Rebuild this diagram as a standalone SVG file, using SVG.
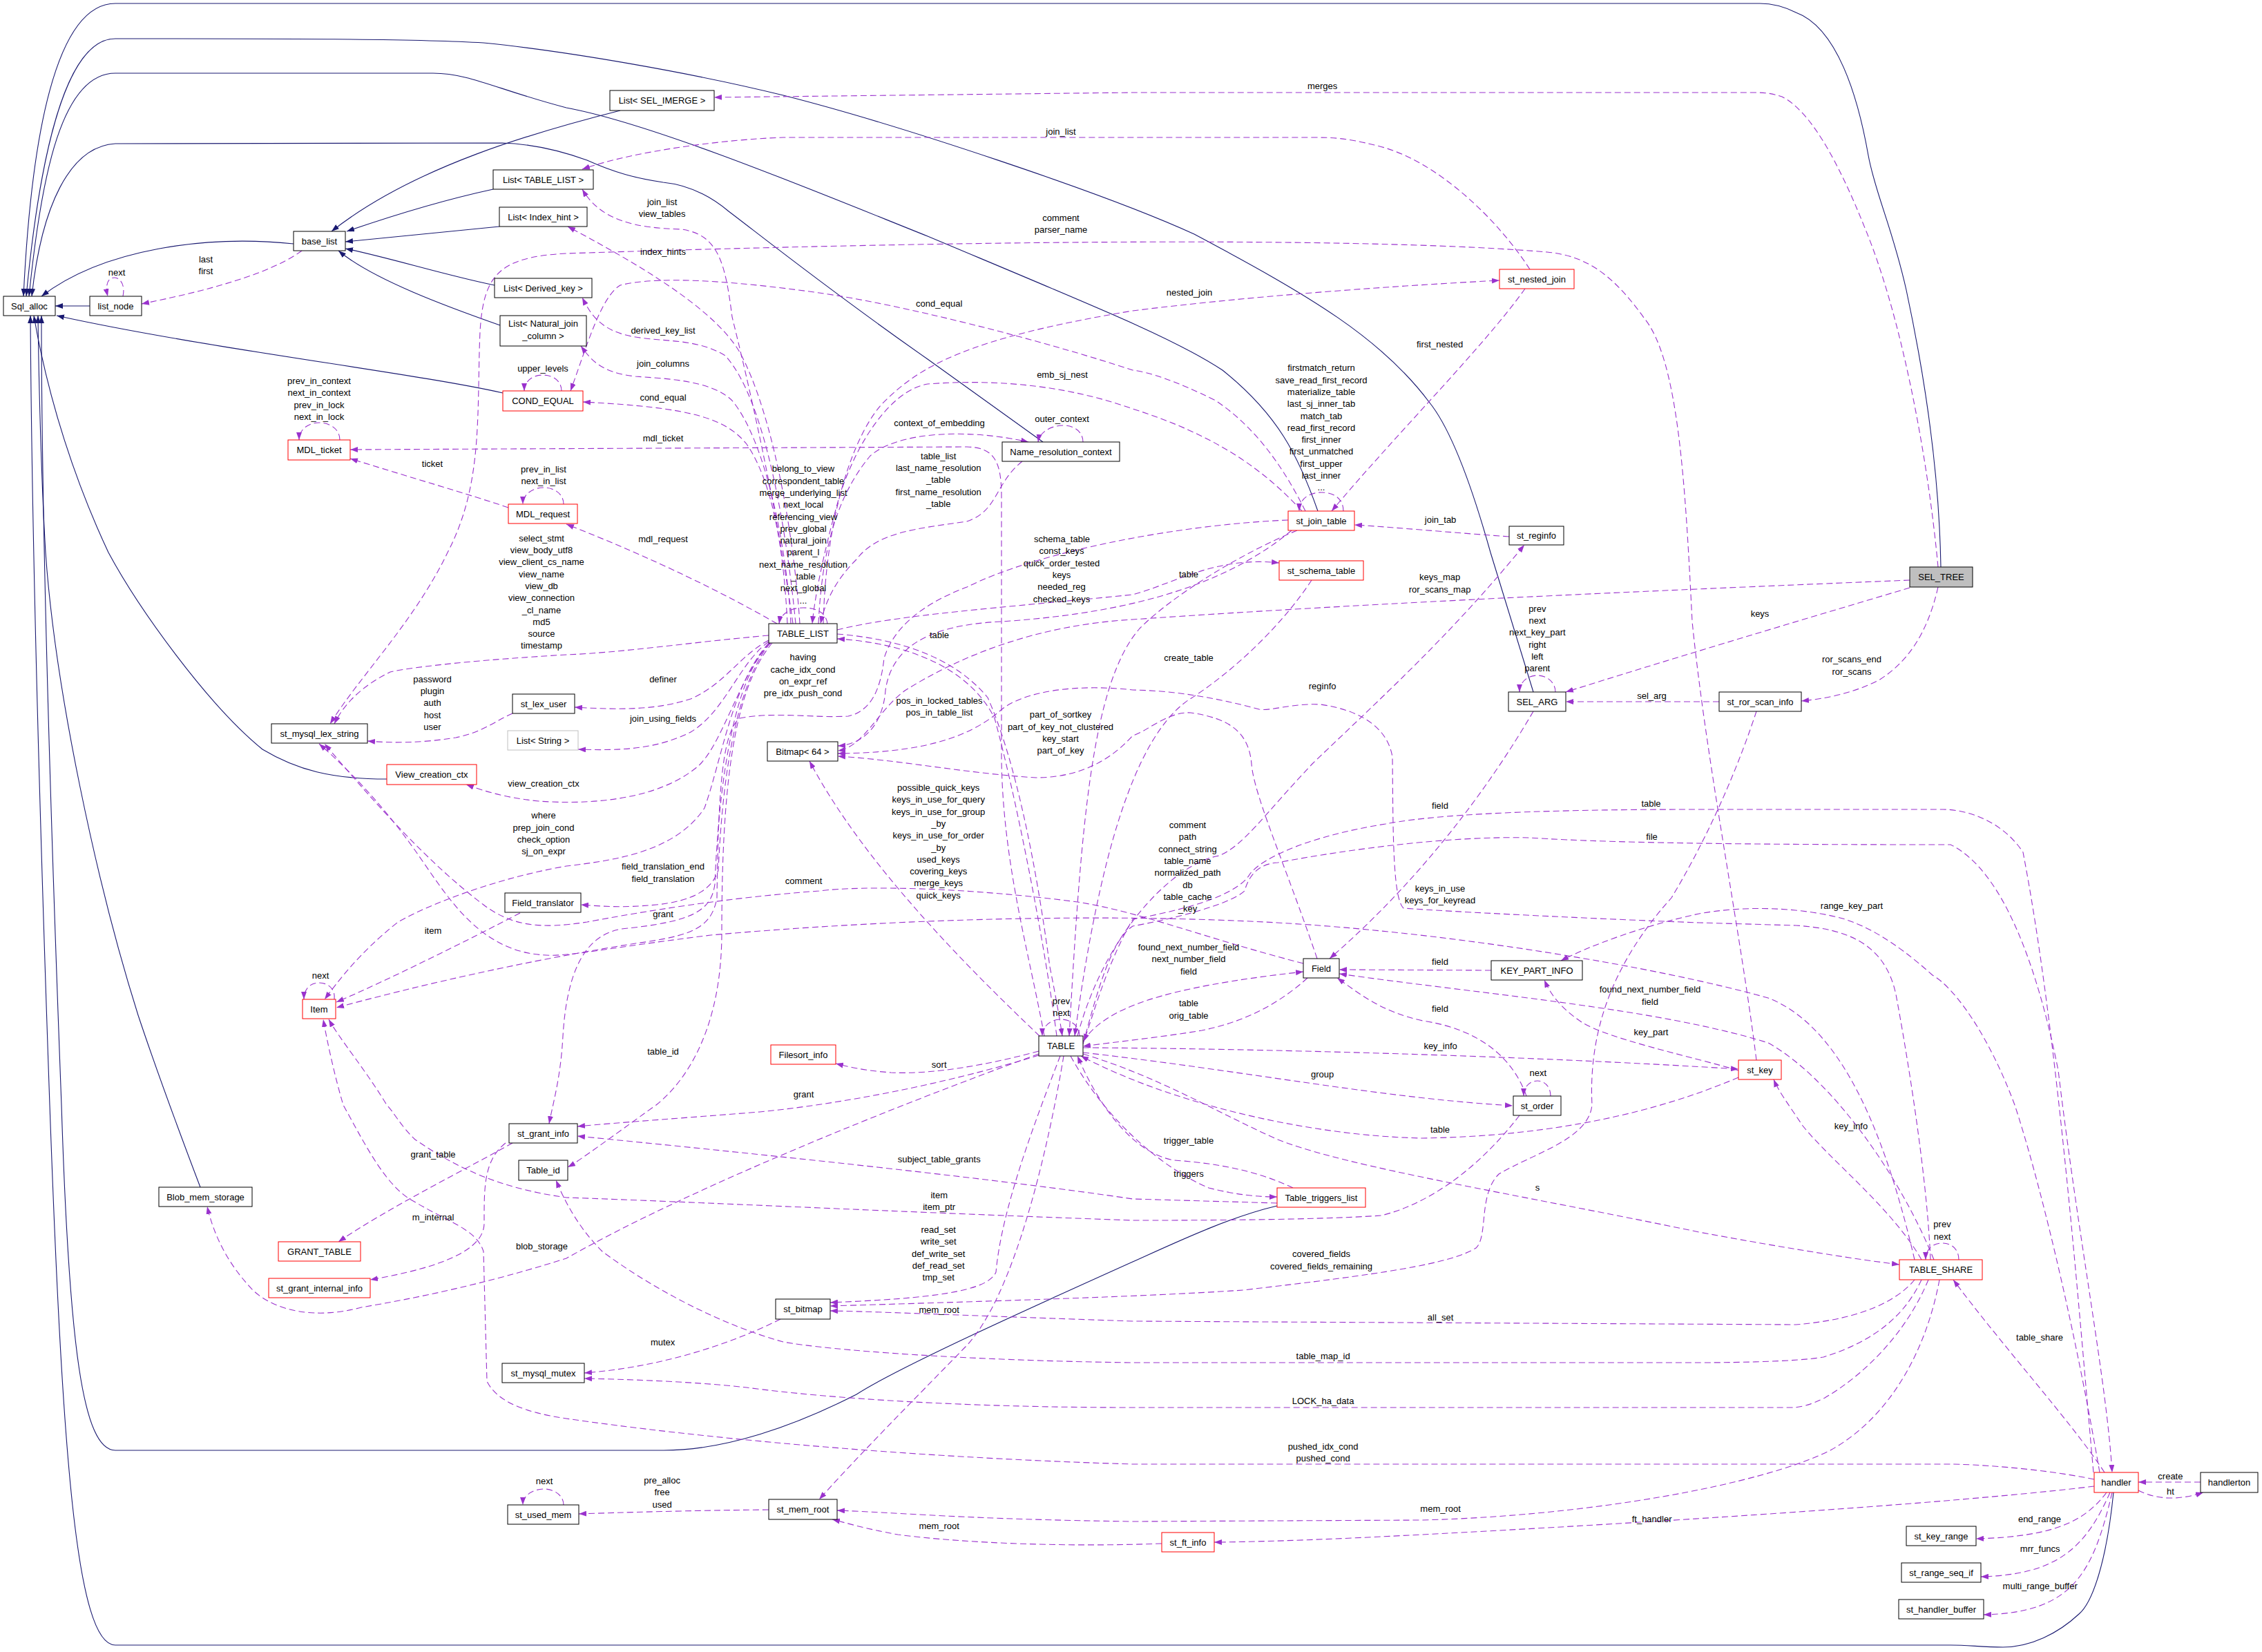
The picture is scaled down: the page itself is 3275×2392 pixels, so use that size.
<svg xmlns="http://www.w3.org/2000/svg" width="3275" height="2392" viewBox="0 0 3275 2392">
<defs>
<marker id="ap" viewBox="0 0 11 8" refX="11" refY="4" markerWidth="11" markerHeight="8" markerUnits="userSpaceOnUse" orient="auto"><path d="M0,0 L11,4 L0,8 z" fill="#9a32cd"/></marker>
<marker id="ab" viewBox="0 0 11 8" refX="11" refY="4" markerWidth="11" markerHeight="8" markerUnits="userSpaceOnUse" orient="auto"><path d="M0,0 L11,4 L0,8 z" fill="#191970"/></marker>
</defs>
<style>
text{font-family:"Liberation Sans",Arial,Helvetica,sans-serif;font-size:13px;fill:#000;text-anchor:middle}
.n rect{fill:#fff;stroke:#000;stroke-width:1}
.n.r rect{stroke:#f00}
.n.g rect{stroke:#bfbfbf}
.n.s rect{fill:#bfbfbf}
.i path{fill:none;stroke:#191970;stroke-width:1.1;marker-end:url(#ab)}
.u path{fill:none;stroke:#9a32cd;stroke-width:1.1;stroke-dasharray:9,5;marker-end:url(#ap)}
</style>
<rect width="3275" height="2392" fill="#fff"/>
<g id="connectors">
<g class="i">
<path d="M130,443 L80,443"/>
<path d="M425,353 C300,340 150,360 60,429"/>
<path d="M714,274 C640,290 560,315 502,335"/>
<path d="M723,328 L500,350"/>
<path d="M716,413 C650,400 560,372 500,360"/>
<path d="M724,471 C650,445 540,405 490,363"/>
<path d="M898,160 C780,190 600,240 480,335"/>
<path d="M728,569 C600,540 300,505 82,457"/>
<path d="M1510,640 L1343,520 C1200,420 1100,340 1055,306 C1030,285 1000,268 960,264 C920,258 890,250 850,232 C800,214 760,208 727,207 L167,208 C100,212 60,300 46,429"/>
<path d="M1908,740 C1880,660 1850,600 1770,536 C1700,490 1600,450 1343,342 C1200,285 950,180 820,156 C720,130 680,106 627,106 L167,106 C90,106 60,250 42,429"/>
<path d="M2220,1002 L2158,800 C2130,700 2100,620 2069,582 C2000,490 1900,430 1729,339 C1600,280 1300,180 1134,138 C1000,105 820,74 700,62 C600,56 400,56 167,56 C90,56 55,250 38,429"/>
<path d="M2810,821 C2808,700 2790,560 2760,420 C2740,330 2715,280 2705,225 C2690,140 2660,40 2600,18 C2580,8 2560,5 2548,5 L167,5 C80,5 45,200 34,429"/>
<path d="M560,1128 C480,1128 430,1115 380,1085 C300,1020 200,880 157,800 C110,700 70,580 49,457"/>
<path d="M290,1719 C260,1640 230,1560 200,1470 C140,1280 80,1000 66,800 C60,700 56,550 55,457"/>
<path d="M1849,1746 C1780,1762 1700,1800 1640,1827 C1500,1890 1300,1980 1240,2019 C1150,2065 1050,2100 961,2100 L167,2100 C120,2100 100,1950 89,1600 C70,1100 60,700 60,457"/>
<path d="M3060,2161 C3050,2260 3030,2320 3010,2337 C2980,2365 2940,2385 2900,2385 C2870,2385 2850,2382 2824,2382 L167,2382 C110,2382 90,2100 72,1600 C58,1200 46,800 44,457"/>
</g>
<g class="u">
<path d="M178,429 C182,410 172,402 166,402 C156,402 152,412 156,429"/>
<path d="M437,363 C400,390 330,415 205,440"/>
<path d="M492,637 C492,620 476,612 462,612 C446,612 433,622 433,637"/>
<path d="M736,735 C680,716 590,690 507,664"/>
<path d="M816,730 C816,714 801,706 787,706 C771,706 757,716 757,730"/>
<path d="M813,566 C813,551 800,543 786,543 C771,543 759,552 759,566"/>
<path d="M1512,1500 C1490,1380 1452,1250 1450,1100 L1450,720 C1450,668 1440,648 1400,647 L507,651"/>
<path d="M1125,903 C1050,860 950,810 820,759"/>
<path d="M1140,903 C1135,800 1120,700 1081,643 C1050,605 1000,590 844,582"/>
<path d="M1145,903 C1140,800 1110,640 1060,580 C1030,550 960,548 920,545 C870,540 855,520 841,501"/>
<path d="M1152,903 C1140,780 1110,580 1050,515 C1010,490 960,495 920,488 C870,480 855,455 843,431"/>
<path d="M1158,903 C1150,780 1120,600 1071,510 C1030,440 900,370 822,328"/>
<path d="M1148,903 C1120,700 1070,500 1060,459 C1050,380 1040,340 987,332 C920,330 870,320 843,274"/>
<path d="M2215,390 C2170,320 2080,230 1990,210 C1950,200 1930,199 1900,199 L1134,199 C1050,202 920,218 843,245"/>
<path d="M2543,1535 C2520,1350 2470,1100 2450,900 C2440,700 2430,520 2380,460 C2330,390 2290,370 2240,365 C2000,345 1500,345 820,367 C720,372 700,400 695,480 C690,600 700,700 648,800 C600,900 520,980 478,1048"/>
<path d="M2806,821 C2790,650 2750,450 2700,330 C2660,230 2620,160 2580,140 C2565,135 2555,134 2540,134 L1640,134 L1034,141"/>
<path d="M1198,903 C1196,887 1182,880 1163,880 C1144,880 1130,889 1128,903"/>
<path d="M1185,903 C1190,800 1210,720 1260,660 C1300,625 1400,620 1489,640"/>
<path d="M1568,640 C1568,625 1555,616 1540,616 C1521,616 1505,626 1503,640"/>
<path d="M1480,668 C1440,700 1445,740 1400,755 C1330,765 1270,770 1240,810 C1210,840 1195,870 1188,903"/>
<path d="M1192,903 C1195,760 1230,640 1275,587 C1330,530 1400,490 1640,450 C1800,430 2000,415 2171,406"/>
<path d="M2208,418 C2150,500 2020,630 1928,740"/>
<path d="M1945,740 C1945,721 1930,713 1913,713 C1896,713 1881,722 1881,740"/>
<path d="M1885,740 C1830,680 1760,630 1640,592 C1550,560 1450,548 1343,556 C1290,565 1240,640 1215,720 C1195,790 1180,860 1176,903"/>
<path d="M1890,740 C1860,680 1820,620 1760,580 C1700,550 1660,538 1640,536 C1500,490 1300,440 1186,424 C1050,405 950,400 898,413 C870,430 850,500 826,566"/>
<path d="M2185,777 C2100,771 2000,762 1961,760"/>
<path d="M1212,912 C1300,890 1450,880 1640,861 C1700,845 1760,805 1852,815"/>
<path d="M1870,768 C1760,860 1600,890 1450,900 C1340,905 1290,940 1282,1000 C1278,1050 1250,1078 1213,1080"/>
<path d="M1505,1500 C1400,1400 1250,1250 1172,1102"/>
<path d="M1212,918 C1300,925 1380,950 1430,1010 C1470,1100 1500,1250 1520,1400 C1530,1450 1535,1480 1538,1500"/>
<path d="M1530,1500 C1510,1350 1470,1150 1440,1040 C1400,960 1300,930 1212,925"/>
<path d="M1878,768 C1800,800 1700,860 1650,910 C1580,990 1565,1200 1548,1500"/>
<path d="M1899,840 C1860,900 1790,970 1720,1014 C1640,1070 1590,1250 1556,1500"/>
<path d="M1560,1500 C1600,1350 1700,1250 1765,1239 C1800,1225 1830,1180 1900,1106 C2000,1010 2100,920 2207,789"/>
<path d="M2252,1002 C2252,988 2240,978 2226,978 C2211,978 2200,988 2200,1002"/>
<path d="M2765,851 C2600,900 2400,960 2267,1002"/>
<path d="M2806,850 C2790,920 2760,960 2720,985 C2680,1005 2640,1012 2608,1015"/>
<path d="M2489,1016 L2267,1016"/>
<path d="M2220,1030 C2150,1150 2050,1280 1925,1388"/>
<path d="M2159,1405 L1939,1404"/>
<path d="M2210,1587 C2190,1530 2140,1490 2060,1478 C2000,1465 1970,1440 1936,1416"/>
<path d="M2245,1587 C2245,1573 2236,1565 2226,1565 C2214,1565 2206,1574 2206,1587"/>
<path d="M1568,1508 C1600,1460 1680,1430 1887,1407"/>
<path d="M1893,1416 C1850,1455 1800,1480 1740,1492 C1680,1502 1620,1508 1568,1515"/>
<path d="M1568,1517 C1800,1518 2200,1528 2517,1548"/>
<path d="M1568,1524 C1800,1550 2000,1590 2190,1601"/>
<path d="M2517,1550 C2450,1530 2330,1505 2290,1480 C2260,1460 2245,1440 2236,1419"/>
<path d="M2800,1824 C2750,1700 2650,1560 2560,1510 C2400,1460 2150,1440 1939,1410"/>
<path d="M1568,1526 C1680,1560 1760,1610 1850,1650 C1950,1690 2200,1730 2460,1784 C2600,1810 2700,1825 2750,1831"/>
<path d="M2782,1824 C2740,1750 2650,1680 2610,1630 C2590,1600 2575,1580 2568,1563"/>
<path d="M2836,1824 C2836,1808 2825,1800 2812,1800 C2797,1800 2788,1810 2788,1824"/>
<path d="M3047,2132 C3000,2060 2900,1950 2828,1853"/>
<path d="M3186,2146 L3096,2146"/>
<path d="M3096,2158 C3120,2170 3150,2174 3190,2161"/>
<path d="M3050,2161 C3020,2200 2980,2225 2861,2228"/>
<path d="M3055,2161 C3020,2240 2980,2280 2868,2283"/>
<path d="M3058,2161 C3030,2280 3000,2335 2872,2338"/>
<path d="M3032,2152 C2800,2180 2300,2210 2000,2225 C1900,2230 1800,2233 1758,2233"/>
<path d="M2808,1853 C2790,1950 2740,2050 2650,2100 C2550,2150 2300,2195 2058,2201 L1640,2203 C1400,2200 1300,2190 1212,2187"/>
<path d="M1682,2235 C1550,2240 1400,2235 1300,2222 C1250,2213 1225,2205 1205,2200"/>
<path d="M1113,2186 C1000,2187 900,2190 838,2192"/>
<path d="M816,2179 C816,2165 802,2156 788,2156 C772,2156 757,2165 757,2179"/>
<path d="M3032,2142 C2950,2125 2850,2120 2824,2120 L1640,2120 C1300,2110 1000,2080 820,2054 C760,2045 720,2030 705,2000 L700,1812 C690,1780 650,1770 600,1740 C560,1720 530,1660 497,1600 C485,1560 474,1510 468,1476"/>
<path d="M2792,1853 C2760,1930 2700,1990 2642,2024 C2620,2035 2605,2038 2595,2038 L1640,2038 C1400,2038 1200,2025 1081,2009 C1000,2000 900,1997 846,1996"/>
<path d="M2782,1853 C2760,1900 2720,1940 2640,1965 C2600,1972 2500,1973 2460,1973 L1640,1973 C1400,1970 1200,1955 1134,1943 C1050,1920 950,1870 872,1812 C840,1780 820,1745 805,1709"/>
<path d="M2772,1853 C2750,1880 2700,1910 2600,1918 L1640,1913 C1400,1905 1300,1900 1202,1898"/>
<path d="M2543,1030 C2520,1100 2480,1200 2420,1300 C2330,1400 2300,1500 2305,1600 C2300,1650 2220,1670 2170,1700 C2140,1730 2155,1790 2137,1807 C2100,1830 2000,1845 1800,1868 C1650,1878 1400,1885 1202,1891"/>
<path d="M1535,1529 C1500,1620 1450,1750 1442,1842 C1430,1870 1350,1880 1202,1886"/>
<path d="M1540,1529 C1520,1650 1470,1880 1395,1953 C1320,2030 1250,2100 1186,2171"/>
<path d="M1130,1910 C1050,1950 950,1980 846,1988"/>
<path d="M1504,1528 C1400,1560 1250,1595 1100,1610 C1000,1618 900,1625 836,1631"/>
<path d="M1849,1742 L1640,1736 C1450,1708 1150,1676 836,1645"/>
<path d="M1550,1529 C1600,1620 1680,1690 1750,1720 C1790,1730 1820,1733 1849,1733"/>
<path d="M1872,1720 C1820,1695 1760,1684 1700,1680 C1640,1670 1590,1600 1560,1529"/>
<path d="M2517,1560 C2400,1610 2250,1645 2060,1648 C1900,1645 1700,1600 1565,1529"/>
<path d="M2200,1615 C2150,1680 2080,1740 2000,1760 C1900,1767 1700,1767 1640,1767 C1300,1755 1000,1740 820,1734 C720,1720 660,1690 601,1650 C580,1630 570,1610 560,1600 C530,1550 492,1505 476,1476"/>
<path d="M1504,1526 C1300,1600 1000,1720 820,1822 C700,1860 600,1880 523,1893 C460,1910 400,1900 366,1868 C330,1830 310,1790 300,1747"/>
<path d="M742,1655 C680,1690 560,1750 490,1798"/>
<path d="M732,1655 C700,1680 701,1720 701,1772 C700,1810 640,1835 536,1853"/>
<path d="M1118,931 C1060,1000 1045,1150 1045,1350 C1045,1480 1000,1560 950,1600 C880,1650 840,1680 822,1690"/>
<path d="M1116,931 C1060,980 1040,1150 1035,1280 C1030,1320 1000,1335 900,1345 C840,1355 820,1420 815,1500 C812,1560 800,1600 795,1627"/>
<path d="M1113,927 C1070,950 1050,990 1000,1012 C950,1028 900,1028 832,1024"/>
<path d="M1113,929 C1070,960 1050,1030 1000,1060 C950,1085 900,1087 837,1085"/>
<path d="M1114,931 C1070,980 1045,1080 1010,1110 C950,1160 850,1165 780,1160 C730,1155 700,1145 675,1136"/>
<path d="M1113,931 C1060,990 1045,1100 1020,1170 C980,1230 900,1245 820,1254 C700,1275 600,1320 575,1336 C520,1380 490,1420 470,1447"/>
<path d="M1115,931 C1060,1000 1045,1150 1040,1260 C1030,1290 1000,1305 950,1310 C900,1315 870,1312 841,1310"/>
<path d="M753,1322 C680,1360 560,1420 487,1451"/>
<path d="M1865,753 C1700,760 1500,800 1400,850 C1320,880 1290,920 1280,953 C1275,1000 1260,1030 1228,1037 C1180,1040 1120,1030 1071,1040 C1045,1060 1040,1150 1038,1300 C1030,1345 1000,1355 920,1366 C800,1385 650,1415 487,1459"/>
<path d="M484,1447 C486,1431 474,1423 462,1423 C449,1423 440,1432 440,1447"/>
<path d="M1887,1395 C1750,1360 1650,1320 1560,1306 C1400,1285 1250,1282 1186,1290 C1050,1300 930,1320 850,1335 C780,1346 740,1340 700,1310 C620,1250 540,1160 470,1077"/>
<path d="M2772,1824 C2720,1600 2650,1480 2560,1445 C2400,1400 2100,1350 1849,1336 C1600,1322 1300,1330 1029,1354 C900,1370 850,1380 820,1382 C700,1395 650,1300 600,1230 C550,1160 500,1110 462,1077"/>
<path d="M1113,920 C1000,930 900,945 820,948 C700,955 600,965 565,973 C530,990 500,1015 484,1048"/>
<path d="M742,1033 C720,1042 700,1060 660,1068 C610,1076 570,1076 532,1073"/>
<path d="M1504,1522 C1430,1542 1350,1556 1290,1553 C1250,1550 1230,1545 1210,1540"/>
<path d="M1563,1500 C1563,1485 1550,1476 1536,1476 C1521,1476 1509,1486 1509,1500"/>
<path d="M2765,840 C2400,855 2000,872 1640,897 C1500,905 1390,950 1310,1000 C1270,1030 1250,1082 1213,1087"/>
<path d="M1907,1388 C1860,1250 1815,1150 1812,1106 C1808,1060 1780,1040 1724,1032 C1690,1030 1660,1060 1640,1065 C1600,1110 1550,1126 1500,1126 C1400,1120 1300,1100 1213,1095"/>
<path d="M2795,1824 C2790,1700 2760,1520 2745,1440 C2730,1370 2680,1345 2600,1340 L2460,1336 C2300,1330 2100,1320 2032,1315 C2016,1300 2017,1200 2016,1096 C2010,1060 1980,1030 1912,1020 C1870,1018 1840,1030 1823,1027 C1760,1010 1700,1000 1640,999 C1560,990 1480,1000 1447,1030 C1400,1070 1330,1090 1213,1091"/>
<path d="M3031,2132 C3010,1900 2980,1500 2929,1234 C2900,1190 2850,1172 2813,1172 L2460,1172 C2300,1172 2100,1175 2006,1193 C1900,1210 1830,1240 1810,1265 C1790,1300 1700,1320 1640,1331 C1600,1400 1580,1480 1569,1508"/>
<path d="M1568,1512 C1590,1430 1610,1360 1640,1341 C1700,1330 1780,1310 1802,1290 C1810,1260 1830,1250 1850,1249 C1950,1230 2100,1210 2215,1213 C2350,1222 2600,1223 2824,1223 C2900,1260 2950,1400 2980,1550 C3010,1800 3050,2000 3058,2132"/>
<path d="M3040,2132 C3000,1900 2950,1700 2917,1600 C2880,1500 2830,1430 2798,1412 C2740,1360 2700,1340 2668,1330 C2600,1312 2520,1312 2460,1323 C2380,1340 2300,1370 2260,1391"/>
</g>
<g id="edge-labels">
<text x="169" y="398.5">next</text>
<text x="298" y="380">last</text><text x="298" y="397">first</text>
<text x="462" y="556">prev_in_context</text><text x="462" y="573.3">next_in_context</text><text x="462" y="590.6">prev_in_lock</text><text x="462" y="607.9">next_in_lock</text>
<text x="626" y="676">ticket</text>
<text x="787" y="683.7">prev_in_list</text><text x="787" y="701">next_in_list</text>
<text x="786" y="537.7">upper_levels</text>
<text x="960" y="638.7">mdl_ticket</text>
<text x="960" y="784.7">mdl_request</text>
<text x="960" y="580.2">cond_equal</text>
<text x="960" y="531.2">join_columns</text>
<text x="960" y="483.3">derived_key_list</text>
<text x="960" y="368.7">index_hints</text>
<text x="958.6" y="297">join_list</text><text x="958.6" y="314.3">view_tables</text>
<text x="1536" y="194.7">join_list</text>
<text x="1536" y="320">comment</text><text x="1536" y="337.3">parser_name</text>
<text x="1914.6" y="128.7">merges</text>
<text x="1163" y="683.3">belong_to_view</text><text x="1163" y="700.6">correspondent_table</text><text x="1163" y="717.9">merge_underlying_list</text><text x="1163" y="735.2">next_local</text><text x="1163" y="752.5">referencing_view</text><text x="1163" y="769.8">prev_global</text><text x="1163" y="787.1">natural_join</text><text x="1163" y="804.4">parent_l</text><text x="1163" y="821.7">next_name_resolution</text><text x="1163" y="839">_table</text><text x="1163" y="856.3">next_global</text><text x="1163" y="873.6">...</text>
<text x="1360" y="616.7">context_of_embedding</text>
<text x="1537.6" y="611.3">outer_context</text>
<text x="1358.7" y="664.7">table_list</text><text x="1358.7" y="682">last_name_resolution</text><text x="1358.7" y="699.3">_table</text><text x="1358.7" y="716.6">first_name_resolution</text><text x="1358.7" y="733.9">_table</text>
<text x="1722" y="428.2">nested_join</text>
<text x="2084.6" y="503.2">first_nested</text>
<text x="1913" y="537.3">firstmatch_return</text><text x="1913" y="554.6">save_read_first_record</text><text x="1913" y="571.9">materialize_table</text><text x="1913" y="589.2">last_sj_inner_tab</text><text x="1913" y="606.5">match_tab</text><text x="1913" y="623.8">read_first_record</text><text x="1913" y="641.1">first_inner</text><text x="1913" y="658.4">first_unmatched</text><text x="1913" y="675.7">first_upper</text><text x="1913" y="693">last_inner</text><text x="1913" y="710.3">...</text>
<text x="1538" y="547">emb_sj_nest</text>
<text x="1359.7" y="443.5">cond_equal</text>
<text x="2085.6" y="757.3">join_tab</text>
<text x="1537.6" y="785.3">schema_table</text>
<text x="1537" y="802.3">const_keys</text><text x="1537" y="819.6">quick_order_tested</text><text x="1537" y="836.9">keys</text><text x="1537" y="854.2">needed_reg</text><text x="1537" y="871.5">checked_keys</text>
<text x="1358.7" y="1145">possible_quick_keys</text><text x="1358.7" y="1162.3">keys_in_use_for_query</text><text x="1358.7" y="1179.6">keys_in_use_for_group</text><text x="1358.7" y="1196.9">_by</text><text x="1358.7" y="1214.2">keys_in_use_for_order</text><text x="1358.7" y="1231.5">_by</text><text x="1358.7" y="1248.8">used_keys</text><text x="1358.7" y="1266.1">covering_keys</text><text x="1358.7" y="1283.4">merge_keys</text><text x="1358.7" y="1300.7">quick_keys</text>
<text x="1360" y="923.7">table</text>
<text x="1360" y="1019">pos_in_locked_tables</text><text x="1360" y="1036.3">pos_in_table_list</text>
<text x="1721" y="836.3">table</text>
<text x="1721" y="957.2">create_table</text>
<text x="1914.6" y="997.7">reginfo</text>
<text x="2225.8" y="885.7">prev</text><text x="2225.8" y="903">next</text><text x="2225.8" y="920.3">next_key_part</text><text x="2225.8" y="937.6">right</text><text x="2225.8" y="954.9">left</text><text x="2225.8" y="972.2">parent</text>
<text x="2548" y="892.7">keys</text>
<text x="2681" y="959.3">ror_scans_end</text><text x="2681" y="976.6">ror_scans</text>
<text x="2391.5" y="1011.7">sel_arg</text>
<text x="2085" y="1170.7">field</text>
<text x="2085" y="1396.7">field</text>
<text x="2085" y="1464.7">field</text>
<text x="2226.8" y="1557.7">next</text>
<text x="1721" y="1376.1">found_next_number_field</text><text x="1721" y="1393.4">next_number_field</text><text x="1721" y="1410.7">field</text>
<text x="1721" y="1457.3">table</text><text x="1721" y="1474.6">orig_table</text>
<text x="2085.6" y="1518.7">key_info</text>
<text x="1914.6" y="1559.7">group</text>
<text x="2390.5" y="1498.7">key_part</text>
<text x="2389" y="1437.3">found_next_number_field</text><text x="2389" y="1454.6">field</text>
<text x="2226" y="1724.4">s</text>
<text x="2680" y="1634.7">key_info</text>
<text x="2812" y="1777.4">prev</text><text x="2812" y="1794.7">next</text>
<text x="2953" y="1940.7">table_share</text>
<text x="3142.4" y="2141.7">create</text>
<text x="3142.4" y="2164.3">ht</text>
<text x="2953" y="2203.7">end_range</text>
<text x="2953.7" y="2247.1">mrr_funcs</text>
<text x="2953.7" y="2300.7">multi_range_buffer</text>
<text x="2391.6" y="2204.2">ft_handler</text>
<text x="2085.6" y="2188.7">mem_root</text>
<text x="1359.7" y="2213.7">mem_root</text>
<text x="958.6" y="2148.1">pre_alloc</text><text x="958.6" y="2165.4">free</text><text x="958.6" y="2182.7">used</text>
<text x="788" y="2149.1">next</text>
<text x="1915.6" y="2099.1">pushed_idx_cond</text><text x="1915.6" y="2116.4">pushed_cond</text>
<text x="1915.6" y="2032.7">LOCK_ha_data</text>
<text x="1915.6" y="1968.3">table_map_id</text>
<text x="2085.6" y="1912.3">all_set</text>
<text x="1913" y="1820.3">covered_fields</text><text x="1913" y="1837.6">covered_fields_remaining</text>
<text x="1358.7" y="1785">read_set</text><text x="1358.7" y="1802.3">write_set</text><text x="1358.7" y="1819.6">def_write_set</text><text x="1358.7" y="1836.9">def_read_set</text><text x="1358.7" y="1854.2">tmp_set</text>
<text x="1359.7" y="1901.2">mem_root</text>
<text x="959.6" y="1948.1">mutex</text>
<text x="1163.6" y="1588.7">grant</text>
<text x="1359.7" y="1682.7">subject_table_grants</text>
<text x="1721" y="1704.2">triggers</text>
<text x="1721" y="1656.2">trigger_table</text>
<text x="2085" y="1639.7">table</text>
<text x="1359.7" y="1734.7">item</text><text x="1359.7" y="1752">item_ptr</text>
<text x="784.5" y="1809.2">blob_storage</text>
<text x="627" y="1675.7">grant_table</text>
<text x="627" y="1767.3">m_internal</text>
<text x="960" y="1527.1">table_id</text>
<text x="960" y="1327.7">grant</text>
<text x="960" y="987.7">definer</text>
<text x="960" y="1044.7">join_using_fields</text>
<text x="787" y="1139">view_creation_ctx</text>
<text x="787" y="1185.3">where</text><text x="787" y="1202.6">prep_join_cond</text><text x="787" y="1219.9">check_option</text><text x="787" y="1237.2">sj_on_expr</text>
<text x="960" y="1259.3">field_translation_end</text><text x="960" y="1276.6">field_translation</text>
<text x="627" y="1352.1">item</text>
<text x="1162.6" y="956.2">having</text><text x="1162.6" y="973.5">cache_idx_cond</text><text x="1162.6" y="990.8">on_expr_ref</text><text x="1162.6" y="1008.1">pre_idx_push_cond</text>
<text x="464" y="1416.7">next</text>
<text x="1163.6" y="1280.2">comment</text>
<text x="1719.5" y="1199.1">comment</text><text x="1719.5" y="1216.4">path</text><text x="1719.5" y="1233.7">connect_string</text><text x="1719.5" y="1251">table_name</text><text x="1719.5" y="1268.3">normalized_path</text><text x="1719.5" y="1285.6">db</text><text x="1719.5" y="1302.9">table_cache</text><text x="1719.5" y="1320.2">_key</text>
<text x="784" y="783.7">select_stmt</text><text x="784" y="801">view_body_utf8</text><text x="784" y="818.3">view_client_cs_name</text><text x="784" y="835.6">view_name</text><text x="784" y="852.9">view_db</text><text x="784" y="870.2">view_connection</text><text x="784" y="887.5">_cl_name</text><text x="784" y="904.8">md5</text><text x="784" y="922.1">source</text><text x="784" y="939.4">timestamp</text>
<text x="626" y="987.7">password</text><text x="626" y="1005">plugin</text><text x="626" y="1022.3">auth</text><text x="626" y="1039.6">host</text><text x="626" y="1056.9">user</text>
<text x="1359.7" y="1545.5">sort</text>
<text x="1536.5" y="1453.7">prev</text><text x="1536.5" y="1471">next</text>
<text x="2084.6" y="840.4">keys_map</text><text x="2084.6" y="857.7">ror_scans_map</text>
<text x="1535.5" y="1039.4">part_of_sortkey</text><text x="1535.5" y="1056.7">part_of_key_not_clustered</text><text x="1535.5" y="1074">key_start</text><text x="1535.5" y="1091.3">part_of_key</text>
<text x="2085" y="1290.7">keys_in_use</text><text x="2085" y="1308">keys_for_keyread</text>
<text x="2390.5" y="1167.7">table</text>
<text x="2391.5" y="1215.7">file</text>
<text x="2681" y="1316.4">range_key_part</text>
</g>
</g>
<g id="nodes">
<g id="Sql_alloc" class="n"><rect x="5" y="429" width="75" height="28"/><text x="42.5" y="447.5">Sql_alloc</text></g>
<g id="list_node" class="n"><rect x="130" y="429" width="75" height="28"/><text x="167.5" y="447.5">list_node</text></g>
<g id="base_list" class="n"><rect x="425" y="335" width="75" height="28"/><text x="462.5" y="353.5">base_list</text></g>
<g id="List_TABLE_LIST" class="n"><rect x="714" y="246" width="145" height="28"/><text x="786.5" y="264.5">List&lt; TABLE_LIST &gt;</text></g>
<g id="List_Index_hint" class="n"><rect x="723" y="300" width="127" height="28"/><text x="786.5" y="318.5">List&lt; Index_hint &gt;</text></g>
<g id="List_Derived_key" class="n"><rect x="716" y="403" width="141" height="28"/><text x="786.5" y="421.5">List&lt; Derived_key &gt;</text></g>
<g id="List_Natural_join_column" class="n"><rect x="724" y="457" width="125" height="44"/><text x="786.5" y="473">List&lt; Natural_join</text><text x="786.5" y="491">_column &gt;</text></g>
<g id="COND_EQUAL" class="n r"><rect x="728" y="566" width="116" height="29"/><text x="786" y="585">COND_EQUAL</text></g>
<g id="MDL_ticket" class="n r"><rect x="417" y="637" width="90" height="29"/><text x="462" y="656">MDL_ticket</text></g>
<g id="MDL_request" class="n r"><rect x="736" y="730" width="100" height="28"/><text x="786" y="748.5">MDL_request</text></g>
<g id="List_SEL_IMERGE" class="n"><rect x="883" y="131" width="151" height="29"/><text x="958.5" y="150">List&lt; SEL_IMERGE &gt;</text></g>
<g id="Name_resolution_context" class="n"><rect x="1451" y="640" width="170" height="28"/><text x="1536" y="658.5">Name_resolution_context</text></g>
<g id="st_nested_join" class="n r"><rect x="2171" y="390" width="108" height="28"/><text x="2225" y="408.5">st_nested_join</text></g>
<g id="st_join_table" class="n r"><rect x="1865" y="740" width="96" height="28"/><text x="1913" y="758.5">st_join_table</text></g>
<g id="st_reginfo" class="n"><rect x="2185" y="762" width="79" height="27"/><text x="2224.5" y="780">st_reginfo</text></g>
<g id="st_mysql_lex_string" class="n"><rect x="393" y="1048" width="139" height="28"/><text x="462.5" y="1066.5">st_mysql_lex_string</text></g>
<g id="st_lex_user" class="n"><rect x="742" y="1005" width="90" height="28"/><text x="787" y="1023.5">st_lex_user</text></g>
<g id="List_String" class="n g"><rect x="735" y="1058" width="102" height="28"/><text x="786" y="1076.5">List&lt; String &gt;</text></g>
<g id="View_creation_ctx" class="n r"><rect x="560" y="1107" width="130" height="29"/><text x="625" y="1126">View_creation_ctx</text></g>
<g id="Field_translator" class="n"><rect x="731" y="1293" width="110" height="28"/><text x="786" y="1311.5">Field_translator</text></g>
<g id="Item" class="n r"><rect x="438" y="1447" width="48" height="28"/><text x="462" y="1465.5">Item</text></g>
<g id="TABLE_LIST" class="n"><rect x="1113" y="903" width="99" height="28"/><text x="1162.5" y="921.5">TABLE_LIST</text></g>
<g id="Bitmap_64" class="n"><rect x="1111" y="1074" width="102" height="28"/><text x="1162" y="1092.5">Bitmap&lt; 64 &gt;</text></g>
<g id="TABLE" class="n"><rect x="1504" y="1500" width="64" height="29"/><text x="1536" y="1519">TABLE</text></g>
<g id="Filesort_info" class="n r"><rect x="1116" y="1513" width="94" height="28"/><text x="1163" y="1531.5">Filesort_info</text></g>
<g id="st_schema_table" class="n r"><rect x="1852" y="812" width="122" height="28"/><text x="1913" y="830.5">st_schema_table</text></g>
<g id="SEL_ARG" class="n"><rect x="2184" y="1002" width="83" height="28"/><text x="2225.5" y="1020.5">SEL_ARG</text></g>
<g id="Field" class="n"><rect x="1887" y="1388" width="52" height="28"/><text x="1913" y="1406.5">Field</text></g>
<g id="KEY_PART_INFO" class="n"><rect x="2159" y="1391" width="132" height="28"/><text x="2225" y="1409.5">KEY_PART_INFO</text></g>
<g id="st_order" class="n"><rect x="2191" y="1587" width="69" height="28"/><text x="2225.5" y="1605.5">st_order</text></g>
<g id="SEL_TREE" class="n s"><rect x="2765" y="821" width="91" height="29"/><text x="2810.5" y="840">SEL_TREE</text></g>
<g id="st_ror_scan_info" class="n"><rect x="2489" y="1002" width="119" height="28"/><text x="2548.5" y="1020.5">st_ror_scan_info</text></g>
<g id="st_key" class="n r"><rect x="2517" y="1535" width="62" height="28"/><text x="2548" y="1553.5">st_key</text></g>
<g id="st_grant_info" class="n"><rect x="737" y="1627" width="99" height="28"/><text x="786.5" y="1645.5">st_grant_info</text></g>
<g id="Table_id" class="n"><rect x="751" y="1680" width="71" height="29"/><text x="786.5" y="1699">Table_id</text></g>
<g id="Blob_mem_storage" class="n"><rect x="230" y="1719" width="135" height="28"/><text x="297.5" y="1737.5">Blob_mem_storage</text></g>
<g id="GRANT_TABLE" class="n r"><rect x="403" y="1798" width="119" height="28"/><text x="462.5" y="1816.5">GRANT_TABLE</text></g>
<g id="st_grant_internal_info" class="n r"><rect x="389" y="1851" width="147" height="28"/><text x="462.5" y="1869.5">st_grant_internal_info</text></g>
<g id="st_mysql_mutex" class="n"><rect x="727" y="1974" width="119" height="28"/><text x="786.5" y="1992.5">st_mysql_mutex</text></g>
<g id="st_used_mem" class="n"><rect x="735" y="2179" width="103" height="28"/><text x="786.5" y="2197.5">st_used_mem</text></g>
<g id="st_bitmap" class="n"><rect x="1123" y="1881" width="79" height="29"/><text x="1162.5" y="1900">st_bitmap</text></g>
<g id="st_mem_root" class="n"><rect x="1113" y="2171" width="99" height="29"/><text x="1162.5" y="2190">st_mem_root</text></g>
<g id="Table_triggers_list" class="n r"><rect x="1849" y="1720" width="128" height="28"/><text x="1913" y="1738.5">Table_triggers_list</text></g>
<g id="st_ft_info" class="n r"><rect x="1682" y="2219" width="76" height="28"/><text x="1720" y="2237.5">st_ft_info</text></g>
<g id="TABLE_SHARE" class="n r"><rect x="2750" y="1824" width="120" height="29"/><text x="2810" y="1843">TABLE_SHARE</text></g>
<g id="handler" class="n r"><rect x="3032" y="2132" width="64" height="29"/><text x="3064" y="2151">handler</text></g>
<g id="handlerton" class="n"><rect x="3186" y="2132" width="83" height="29"/><text x="3227.5" y="2151">handlerton</text></g>
<g id="st_key_range" class="n"><rect x="2760" y="2210" width="101" height="28"/><text x="2810.5" y="2228.5">st_key_range</text></g>
<g id="st_range_seq_if" class="n"><rect x="2753" y="2263" width="115" height="28"/><text x="2810.5" y="2281.5">st_range_seq_if</text></g>
<g id="st_handler_buffer" class="n"><rect x="2749" y="2316" width="123" height="28"/><text x="2810.5" y="2334.5">st_handler_buffer</text></g>
</g>
</svg>
